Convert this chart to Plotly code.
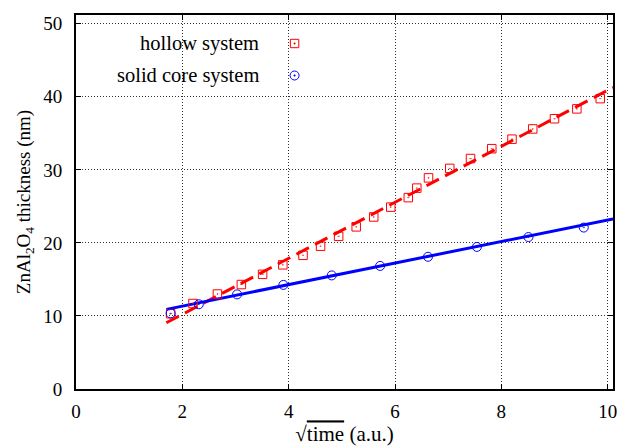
import numpy as np
import plotly.graph_objects as go

# ---- data ----
hollow_x = [1.78, 2.20, 2.66, 3.11, 3.51, 3.89, 4.27, 4.60, 4.94, 5.27, 5.60, 5.92,
            6.25, 6.41, 6.63, 7.03, 7.42, 7.82, 8.20, 8.59, 9.00, 9.42, 9.86]
hollow_y = [10.3, 11.7, 13.0, 14.3, 15.7, 17.0, 18.3, 19.55, 20.9, 22.2, 23.55, 24.9,
            26.2, 27.5, 28.9, 30.2, 31.55, 32.9, 34.2, 35.6, 37.0, 38.35, 39.75]

solid_x = [1.78, 2.31, 3.03, 3.90, 4.81, 5.72, 6.62, 7.54, 8.51, 9.55]
solid_y = [10.35, 11.6, 12.95, 14.25, 15.55, 16.85, 18.1, 19.45, 20.8, 22.1]

# linear fits (slope, intercept) as drawn in the reference
hollow_fit = (3.835, 2.55)
solid_fit = (1.475, 8.39)
fit_range = [1.70, 10.1]

x_ticks = [0, 2, 4, 6, 8, 10]
y_ticks = [0, 10, 20, 30, 40, 50]

series_names = ["hollow system", "solid core system"]

RED = "#ff0000"
BLUE = "#0000ff"
FONT = "Liberation Serif"
FS = 19

fx = np.array(fit_range)

fig = go.Figure()
fig.add_trace(go.Scatter(x=fx, y=hollow_fit[0] * fx + hollow_fit[1], mode="lines",
                         line=dict(color=RED, width=3, dash="14px,7px"), showlegend=False,
                         hoverinfo="skip"))
fig.add_trace(go.Scatter(x=fx, y=solid_fit[0] * fx + solid_fit[1], mode="lines",
                         line=dict(color=BLUE, width=3), showlegend=False, hoverinfo="skip"))
fig.add_trace(go.Scatter(x=hollow_x, y=hollow_y, mode="markers", name=series_names[0],
                         marker=dict(symbol="square-open-dot", size=8.5, color=RED,
                                     line=dict(width=1, color=RED)), showlegend=False))
fig.add_trace(go.Scatter(x=solid_x, y=solid_y, mode="markers", name=series_names[1],
                         marker=dict(symbol="circle-open-dot", size=9, color=BLUE,
                                     line=dict(width=1, color=BLUE)), showlegend=False))

L, R, T, B = 76, 3, 15, 58
W, H = 620, 447
pw, ph = W - L - R, H - T - B


def px_to_paper(px, py):
    return (px - L) / pw, (H - B - py) / ph


# key (gnuplot-style: text right-aligned, symbol to the right)
shapes = []
annotations = []
key_rows = [(series_names[0], 43.5, RED, "rect"), (series_names[1], 75.5, BLUE, "circle")]
for name, py, col, kind in key_rows:
    tx, ty = px_to_paper(262.5, py)
    annotations.append(dict(text=name, x=tx, y=ty, xref="paper", yref="paper",
                            xanchor="right", yanchor="middle", showarrow=False,
                            font=dict(family=FONT, size=20.5, color="black")))
    mx, my = px_to_paper(296.2, py)
    half = 4.2 if kind == "rect" else 4.5
    shapes.append(dict(type=kind, xref="paper", yref="paper", xsizemode="pixel",
                       ysizemode="pixel", xanchor=mx, yanchor=my,
                       x0=-half, x1=half, y0=-half, y1=half,
                       line=dict(color=col, width=1), fillcolor="rgba(0,0,0,0)"))
    shapes.append(dict(type="circle", xref="paper", yref="paper", xsizemode="pixel",
                       ysizemode="pixel", xanchor=mx, yanchor=my,
                       x0=-0.8, x1=0.8, y0=-0.8, y1=0.8,
                       line=dict(color=col, width=0.5), fillcolor=col))

axis_common = dict(
    showline=True, linecolor="black", linewidth=1.8, mirror="ticks",
    ticks="inside", ticklen=5, tickwidth=1, tickcolor="black",
    showgrid=True, gridcolor="#333333", gridwidth=1, griddash="1px,2px",
    zeroline=False, tickfont=dict(family=FONT, size=FS, color="black"),
)

fig.update_layout(
    width=W, height=H,
    margin=dict(l=L, r=R, t=T, b=B),
    paper_bgcolor="white", plot_bgcolor="white",
    shapes=shapes, annotations=annotations,
    xaxis=dict(range=[0, 10.1], tickvals=x_ticks, ticklabelstandoff=4,
               title=dict(text="√<span style='text-decoration:overline'>time</span> (a.u.)",
                          font=dict(family=FONT, size=21, color="black"), standoff=6),
               **axis_common),
    yaxis=dict(range=[0, 51.2], tickvals=y_ticks, ticklabelstandoff=8,
               title=dict(text="ZnAl<sub>2</sub>O<sub>4</sub> thickness (nm)",
                          font=dict(family=FONT, size=FS, color="black"), standoff=8),
               **axis_common),
)

fig.write_html("out.html")
